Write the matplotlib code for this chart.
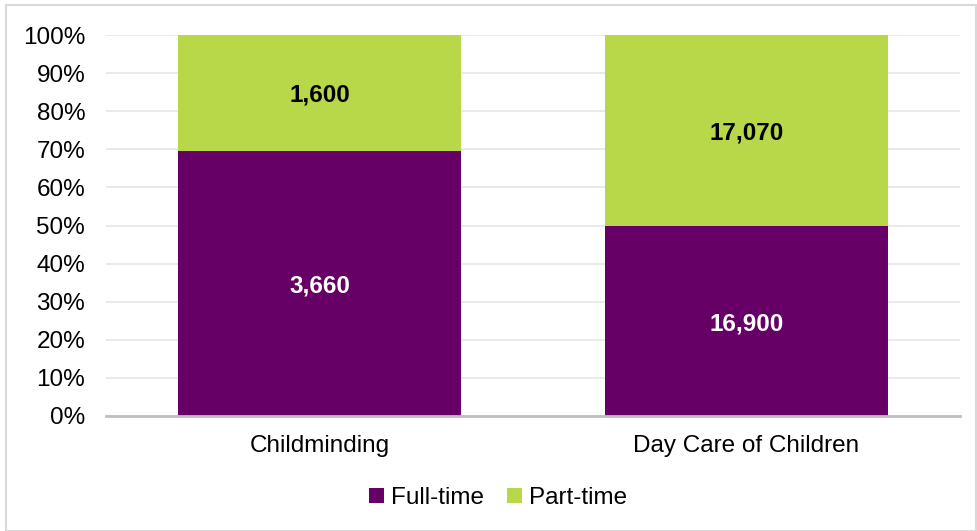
import matplotlib.pyplot as plt
from matplotlib.patches import Rectangle
import numpy as np

plt.rcParams['font.family'] = ['Liberation Sans', 'DejaVu Sans']

categories = ['Childminding', 'Day Care of Children']
full_time = [3660, 16900]
part_time = [1600, 17070]

ft = np.array(full_time, dtype=float)
pt = np.array(part_time, dtype=float)
total = ft + pt
ft_pct = ft / total * 100
pt_pct = pt / total * 100

purple = '#660066'
green = '#b8d84a'
fs = 17.5

fig = plt.figure(figsize=(9.77, 5.31), dpi=100)
ax = fig.add_axes([0.1085, 0.2166, 0.8741, 0.7174])

x = np.arange(len(categories))
w = 0.664
ax.bar(x, ft_pct, w, color=purple, label='Full-time', zorder=3)
ax.bar(x, pt_pct, w, bottom=ft_pct, color=green, label='Part-time', zorder=3)

# value labels in the middle of each segment
for i in range(len(categories)):
    ax.text(x[i], ft_pct[i] / 2, f'{full_time[i]:,}', ha='center', va='center_baseline',
            color='white', fontsize=fs, fontweight='bold', zorder=4)
    ax.text(x[i], ft_pct[i] + pt_pct[i] / 2, f'{part_time[i]:,}', ha='center',
            va='center_baseline', color='black', fontsize=fs, fontweight='bold', zorder=4)

ax.set_xlim(-0.5, 1.5)
ax.set_ylim(0, 100)
ax.set_yticks(range(0, 101, 10))
ax.set_yticklabels([f'{v}%' for v in range(0, 101, 10)])
ax.set_xticks(x)
ax.set_xticklabels(categories)
ax.tick_params(axis='both', length=0, labelsize=fs, colors='black')
ax.tick_params(axis='y', pad=15)
ax.tick_params(axis='x', pad=14)

ax.yaxis.grid(True, color='#e6e6e6', linewidth=1.2, zorder=0)
for s in ['top', 'right', 'left']:
    ax.spines[s].set_visible(False)
ax.spines['bottom'].set_color('#bfbfbf')
ax.spines['bottom'].set_linewidth(2)
ax.spines['bottom'].set_zorder(5)

fig.legend(loc='lower center', bbox_to_anchor=(0.51, 0.0), ncol=2, frameon=False,
           fontsize=fs, handlelength=0.6, handleheight=0.6, handletextpad=0.3,
           columnspacing=0.95)

fig.patches.append(Rectangle((6 / 977, 0), 970 / 977, 1 - 5 / 531, transform=fig.transFigure,
                             fill=False, edgecolor='#d9d9d9', linewidth=1.5))

fig.savefig('out.png', dpi=100)
